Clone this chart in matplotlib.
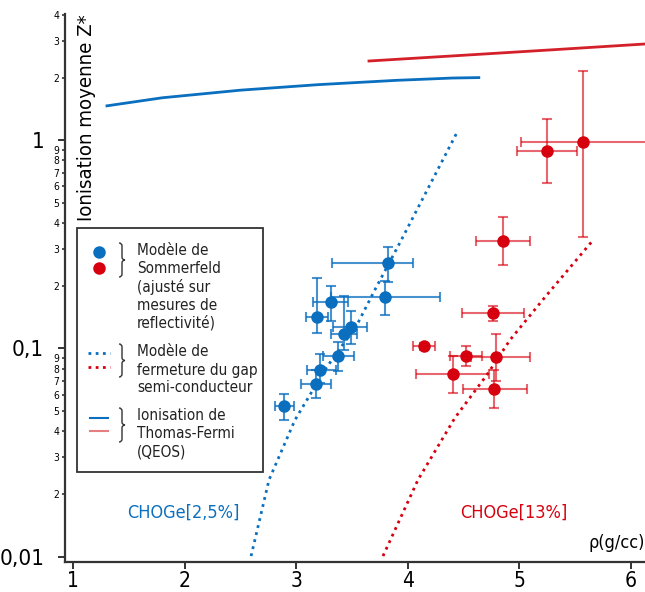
import matplotlib
matplotlib.use("Agg")
import matplotlib.pyplot as plt
import numpy as np
from matplotlib.path import Path
from matplotlib.patches import PathPatch, Rectangle
from matplotlib.lines import Line2D
from matplotlib.ticker import FixedLocator, FuncFormatter
from matplotlib import font_manager

# pick a condensed font if one exists
_fl = font_manager.fontManager.ttflist
_names = {f.name for f in _fl}
_cond = [f for f in _fl if ('Condensed' in f.fname or 'Narrow' in f.fname or 'Cond' in f.name)
         and 'Bold' not in f.fname and 'Oblique' not in f.fname and 'Italic' not in f.fname]
if 'Liberation Sans Narrow' in _names:
    FAM = 'Liberation Sans Narrow'
    plt.rcParams['font.stretch'] = 'condensed'
elif _cond:
    FAM = _cond[0].name
    plt.rcParams['font.stretch'] = 'condensed'
else:
    FAM = 'Roboto'
plt.rcParams['font.family'] = [FAM, 'DejaVu Sans']

BLUE = '#0a6fbf'
RED = '#d7000f'
REDLINE = '#d42029'
PINK = '#e57e80'
DARK = '#333333'

# ---------------- data ----------------
# Blue points : CHOGe[2,5%] (Sommerfeld)
b_rho    = [3.826, 3.796, 3.309, 3.189, 3.491, 3.429, 3.378, 3.213, 3.175, 2.893]
b_rho_lo = [3.318, 3.310, 3.153, 3.085, 3.333, 3.309, 3.243, 3.094, 3.040, 2.810]
b_rho_hi = [4.045, 4.290, 3.467, 3.288, 3.638, 3.548, 3.521, 3.357, 3.312, 2.983]
b_z      = [0.256, 0.176, 0.1667, 0.1418, 0.1268, 0.1178, 0.0916, 0.0785, 0.0677, 0.0527]
b_z_lo   = [0.208, 0.144, 0.135, 0.1188, 0.1055, 0.0987, 0.0776, 0.0682, 0.0578, 0.0454]
b_z_hi   = [0.308, 0.210, 0.199, 0.218, 0.151, 0.1795, 0.108, 0.0944, 0.0785, 0.0606]

# Red points : CHOGe[13%] (Sommerfeld)
r_rho    = [5.575, 5.247, 4.857, 4.762, 4.146, 4.523, 4.796, 4.404, 4.777]
r_rho_lo = [5.013, 4.983, 4.612, 4.484, 4.045, 4.379, 4.570, 4.074, 4.499]
r_rho_hi = [6.300, 5.521, 5.097, 5.043, 4.245, 4.664, 5.097, 4.732, 5.067]
r_z      = [0.981, 0.888, 0.330, 0.148, 0.1023, 0.0923, 0.091, 0.0754, 0.0638]
r_z_lo   = [0.344, 0.626, 0.253, 0.135, 0.0980, 0.0827, 0.070, 0.0611, 0.0517]
r_z_hi   = [2.155, 1.271, 0.428, 0.1607, 0.1060, 0.1031, 0.118, 0.0916, 0.0785]

# Gap closure model (dotted)
gap_b_rho = [2.595, 2.756, 2.989, 3.258, 3.545, 3.707, 3.931, 4.443]
gap_b_z   = [0.01007, 0.0234, 0.0454, 0.0791, 0.130, 0.192, 0.323, 1.093]
gap_r_rho = [3.778, 4.092, 4.424, 4.711, 4.918, 5.214, 5.653]
gap_r_z   = [0.01007, 0.0234, 0.0465, 0.0748, 0.110, 0.172, 0.327]

# Thomas-Fermi ionisation (QEOS)
tf_b_rho = [1.29, 1.8, 2.5, 3.2, 3.9, 4.4, 4.65]
tf_b_z   = [1.46, 1.60, 1.74, 1.85, 1.94, 1.99, 2.00]
tf_r_rho = [3.64, 4.5, 5.3, 6.13]
tf_r_z   = [2.40, 2.56, 2.72, 2.90]

x_ticks = [1, 2, 3, 4, 5, 6]
y_major = [0.01, 0.1, 1]
y_major_labels = ['0,01', '0,1', '1']

# ---------------- figure ----------------
W, H = 645, 592
fig = plt.figure(figsize=(W / 100, H / 100), dpi=100)
ax = fig.add_axes([65 / W, (592 - 561.7) / H, (645 - 65) / W, (561.7 - 14) / H])
ax.set_yscale('log')
ax.set_xlim(0.926, 6.128)
ax.set_ylim(0.00946, 4.04)

for s in ['top', 'right']:
    ax.spines[s].set_visible(False)
for s in ['left', 'bottom']:
    ax.spines[s].set_color(DARK)
    ax.spines[s].set_linewidth(1.6)

# lines
ax.plot(tf_b_rho, tf_b_z, color=BLUE, lw=2.0, solid_capstyle='butt')
ax.plot(tf_r_rho, tf_r_z, color=REDLINE, lw=2.0, solid_capstyle='butt')
ax.plot(gap_b_rho, gap_b_z, color=BLUE, lw=2.0, linestyle=(0, (1, 1.6)))
ax.plot(gap_r_rho, gap_r_z, color=RED, lw=2.0, linestyle=(0, (1, 1.6)))

def err(v, lo, hi):
    v = np.array(v); lo = np.array(lo); hi = np.array(hi)
    return np.vstack([v - lo, hi - v])

ax.errorbar(b_rho, b_z, xerr=err(b_rho, b_rho_lo, b_rho_hi), yerr=err(b_z, b_z_lo, b_z_hi),
            fmt='none', ecolor=BLUE, elinewidth=1.5, capsize=3.5, capthick=1.5, alpha=0.75)
ax.plot(b_rho, b_z, 'o', color=BLUE, ms=9, mec='none', zorder=5)
ax.errorbar(r_rho, r_z, xerr=err(r_rho, r_rho_lo, r_rho_hi), yerr=err(r_z, r_z_lo, r_z_hi),
            fmt='none', ecolor=RED, elinewidth=1.5, capsize=3.5, capthick=1.5, alpha=0.6)
ax.plot(r_rho, r_z, 'o', color=RED, ms=9, mec='none', zorder=5)

# ticks
ax.set_xticks(x_ticks)
ax.set_xticklabels([str(t) for t in x_ticks])
ax.tick_params(axis='x', which='major', direction='out', length=5, width=1.4, color=DARK,
               labelsize=15, pad=1.5, labelcolor='black')
ax.tick_params(axis='x', which='minor', length=0)

ax.yaxis.set_major_locator(FixedLocator(y_major))
ax.yaxis.set_major_formatter(FuncFormatter(lambda v, p: dict(zip(y_major, y_major_labels)).get(round(v, 6), '')))
minor_vals = [m * d for d in [0.01, 0.1, 1] for m in range(2, 10) if m * d <= 4.0]
ax.yaxis.set_minor_locator(FixedLocator(minor_vals))
ax.yaxis.set_minor_formatter(FuncFormatter(lambda v, p: str(int(round(v / 10 ** np.floor(np.log10(v) + 1e-9))))))
ax.tick_params(axis='y', which='major', direction='out', length=5, width=1.4, color=DARK,
               labelsize=16, pad=10)
ax.tick_params(axis='y', which='minor', direction='out', length=2.5, width=1.2, color=DARK,
               labelsize=7.5, pad=1.5)

# axis labels / annotations
fig.text(86 / W, 1 - 14 / H, 'Ionisation moyenne Z*', rotation=90, ha='center', va='top',
         fontsize=14.6, color='black')
fig.text(645 / W, 1 - 543 / H, 'ρ(g/cc)', ha='right', va='center', fontsize=13, color='black')
fig.text(183 / W, 1 - 513 / H, 'CHOGe[2,5%]', ha='center', va='center', fontsize=13, color=BLUE)
fig.text(514 / W, 1 - 513 / H, 'CHOGe[13%]', ha='center', va='center', fontsize=13, color=RED)

# ---------------- legend (drawn in figure pixels) ----------------
def fx(x):
    return x / W

def fy(y):
    return 1 - y / H

fig.patches.append(Rectangle((fx(77.3), fy(471.7)), (263.3 - 77.3) / W, (471.7 - 228.3) / H,
                             transform=fig.transFigure, facecolor='white', edgecolor=DARK,
                             lw=1.3, zorder=10))

def brace(x, y0, y1):
    ym = (y0 + y1) / 2
    c = 3.0
    verts = [(x - c, y0), (x, y0), (x, y0 + c),
             (x, ym - c), (x, ym), (x + c, ym),
             (x, ym), (x, ym + c),
             (x, y1 - c), (x, y1), (x - c, y1)]
    codes = [Path.MOVETO, Path.CURVE3, Path.CURVE3,
             Path.LINETO, Path.CURVE3, Path.CURVE3,
             Path.CURVE3, Path.CURVE3,
             Path.LINETO, Path.CURVE3, Path.CURVE3]
    verts = [(fx(a), fy(b)) for a, b in verts]
    fig.patches.append(PathPatch(Path(verts, codes), transform=fig.transFigure, fill=False,
                                 edgecolor=DARK, lw=1.0, zorder=11))

def fline(xs, ys, **kw):
    fig.lines.append(Line2D([fx(a) for a in xs], [fy(b) for b in ys],
                            transform=fig.transFigure, zorder=11, **kw))

fline([99], [251.7], marker='o', ms=9, color=BLUE, mec='none', lw=0)
fline([99], [268.3], marker='o', ms=9, color=RED, mec='none', lw=0)
fline([88, 110], [353.3, 353.3], color=BLUE, lw=2.0, linestyle=(0, (1, 1.6)))
fline([88, 110], [366.7, 366.7], color=RED, lw=2.0, linestyle=(0, (1, 1.6)))
fline([90, 108], [418.3, 418.3], color=BLUE, lw=1.5)
fline([90, 108], [430.7, 430.7], color=PINK, lw=1.5)

brace(122, 243, 277)
brace(122, 344, 377)
brace(122, 408, 442)

legend_lines = [
    (250.7, 'Modèle de'), (268.3, 'Sommerfeld'), (286.7, '(ajusté sur'),
    (305.0, 'mesures de'), (322.7, 'reflectivité)'),
    (351.7, 'Modèle de'), (370.0, 'fermeture du gap'), (387.7, 'semi-conducteur'),
    (415.7, 'Ionisation de'), (433.3, 'Thomas-Fermi'), (451.7, '(QEOS)'),
]
for y, t in legend_lines:
    fig.text(fx(137), fy(y), t, ha='left', va='center', fontsize=11, color='#222222', zorder=12)

fig.savefig('out.png', dpi=100)
